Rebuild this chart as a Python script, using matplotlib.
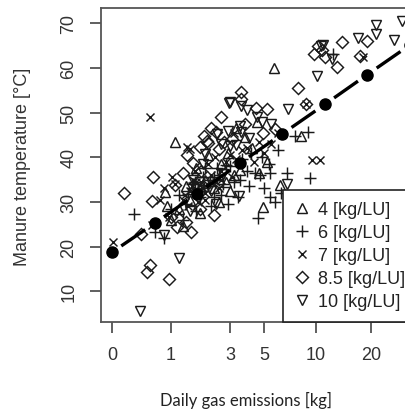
import numpy as np
import matplotlib
matplotlib.use('Agg')
import matplotlib.pyplot as plt

plt.rcParams['font.family'] = ['Liberation Sans', 'DejaVu Sans']

# daily gas emissions [kg] and manure temperature [C] per loading rate
tri_up_x = [1.10, 5.71, 8.2, 4.9, 6.2, 3.5, 4.5, 1.2, 1.5, 1.8, 2.0, 2.3, 2.6, 2.9, 3.2,
            3.8, 4.2, 1.4, 0.9, 1.7, 2.5, 3.0, 5.2, 4.6, 1.0, 2.1, 3.3, 0.86, 1.3, 2.8]
tri_up_y = [43.3, 59.9, 44.7, 28.8, 33.7, 37.2, 47.8, 28.5, 30.5, 27.5, 35.0, 33.0, 38.5, 41.0, 36.0,
            44.5, 42.0, 33.5, 29.0, 37.5, 30.0, 32.5, 39.0, 36.5, 26.0, 40.5, 46.5, 32.1, 24.5, 34.5]

plus_x = [7.6, 9.0, 9.25, 6.8, 3.5, 5.4, 4.56, 2.3, 4.7, 5.4, 4.4, 0.295, 0.657, 0.85, 1.0,
          1.2, 1.4, 1.6, 1.8, 1.9, 2.1, 2.2, 2.5, 2.7, 3.0, 3.2, 3.6, 3.9, 4.1, 4.8,
          5.0, 5.8, 6.3, 6.0, 1.3, 1.7, 2.0, 2.6, 2.9, 3.4, 4.0, 5.3, 12.5, 1.55, 1.95,
          2.15, 1.75, 1.65, 1.85, 2.3, 2.45, 2.8, 1.45]
plus_y = [44.7, 45.6, 35.3, 36.5, 35.0, 31.0, 26.3, 31.0, 36.0, 36.5, 36.5, 27.2, 23.2, 22.0, 28.5,
          31.5, 29.5, 33.0, 31.0, 35.5, 33.5, 29.0, 36.0, 34.0, 38.0, 34.5, 39.5, 37.0, 41.0, 40.0,
          33.0, 30.0, 32.0, 41.5, 26.0, 28.0, 37.5, 31.5, 29.5, 31.0, 33.5, 38.5, 63.0, 34.0, 33.0,
          35.0, 32.5, 34.5, 32.5, 35.5, 37.5, 38.2, 31.8]

cross_x = [0.563, 9.5, 10.5, 0.012, 8.77, 18.0, 3.2, 1.02, 0.85, 1.1, 1.3, 1.5, 1.7, 1.9, 2.0,
           2.2, 2.4, 2.6, 2.8, 3.0, 3.3, 3.6, 3.9, 4.3, 4.6, 5.0, 5.5, 1.2, 1.45, 1.65,
           2.1, 2.5, 0.75, 0.6, 0.95, 1.75, 2.35, 3.1, 6.0, 1.41, 1.5, 1.85, 1.6, 2.05,
           1.55, 1.7, 1.8, 2.0, 2.25, 2.6, 1.35]
cross_y = [48.9, 39.3, 39.3, 21.0, 52.0, 62.5, 45.5, 35.5, 33.0, 34.0, 30.5, 32.5, 34.5, 33.0, 30.5,
           36.0, 34.5, 37.0, 39.0, 40.5, 39.5, 41.5, 42.0, 39.0, 43.5, 41.0, 43.0, 27.5, 29.0, 36.8,
           38.5, 33.0, 30.5, 24.8, 26.5, 30.0, 40.0, 35.5, 45.5, 42.2, 41.8, 34.5, 35.0, 34.0,
           33.5, 32.8, 33.8, 32.0, 34.2, 35.0, 31.5]

diam_x = [0.151, 0.619, 0.6, 0.406, 0.563, 0.509, 0.954, 1.53, 1.0, 1.146, 13.9, 10.8, 10.3, 17.4, 13.07,
          7.9, 8.77, 3.55, 3.55, 4.43, 5.18, 5.79, 19.0, 9.8, 11.2, 2.4, 2.05, 1.81, 1.41, 2.1,
          1.85, 1.95, 2.2, 2.75, 3.1, 4.9, 1.3, 1.6, 2.5, 1.1, 3.8, 2.6, 1.4, 1.8, 2.3]
diam_y = [31.9, 35.5, 30.1, 22.8, 15.8, 14.2, 12.7, 23.2, 26.6, 24.3, 65.7, 63.9, 64.8, 62.6, 60.1,
          55.4, 51.8, 54.5, 53.0, 50.9, 50.7, 46.2, 65.9, 63.0, 62.5, 45.6, 43.6, 42.2, 40.6, 43.1,
          37.0, 44.8, 46.5, 43.5, 44.0, 45.5, 36.5, 38.8, 41.8, 33.8, 47.5, 49.0, 25.5, 28.5, 27.0]

tri_dn_x = [0.39, 1.2, 21.2, 29.2, 21.2, 26.5, 17.0, 10.66, 12.27, 10.12, 6.91, 2.95, 3.55, 3.5, 2.91,
            4.5, 4.83, 2.43, 3.45, 6.8, 11.0, 2.0, 2.6, 3.0, 1.9, 1.6, 2.2, 2.7, 3.3, 4.0,
            0.85, 1.5, 2.4, 5.5, 3.9, 3.0, 3.55]
tri_dn_y = [5.5, 17.4, 69.7, 70.4, 67.5, 66.2, 66.6, 64.8, 61.9, 58.1, 50.7, 52.1, 51.4, 46.9, 45.8,
            48.9, 47.8, 45.3, 31.3, 33.9, 65.2, 40.8, 43.0, 42.5, 38.5, 35.0, 32.5, 36.2, 42.8, 44.2,
            22.5, 28.0, 29.5, 47.5, 50.5, 52.3, 45.6]

# fitted line (dots)
fit_x = [0, 0.65, 1.72, 3.48, 6.39, 11.18, 19.09, 32.1]
fit_y = [18.7, 25.2, 31.8, 38.6, 45.2, 51.8, 58.5, 65.1]

legend_labels = ['4 [kg/LU]', '6 [kg/LU]', '7 [kg/LU]', '8.5 [kg/LU]', '10 [kg/LU]']
xticks = [0, 1, 3, 5, 10, 20]
yticks = [10, 20, 30, 40, 50, 60, 70]

W, H = 406, 414
fig = plt.figure(figsize=(W / 100, H / 100), dpi=100)
ax = fig.add_axes([101 / W, 1 - 323 / H, (420 - 101) / W, (323 - 9) / H])
ax.set_xscale('function', functions=(np.log1p, np.expm1))
ax.set_xlim(-0.12, 36.3)
ax.set_ylim(3.1, 73.4)

mc = '#1a1a1a'
style = dict(ls='none', mfc='none', mec=mc, mew=1.05)
h1, = ax.plot(tri_up_x, tri_up_y, marker='^', ms=7, **style)
h2, = ax.plot(plus_x, plus_y, marker='+', ms=8, **style)
h3, = ax.plot(cross_x, cross_y, marker='x', ms=6, **style)
h4, = ax.plot(diam_x, diam_y, marker='D', ms=6.3, **style)
h5, = ax.plot(tri_dn_x, tri_dn_y, marker='v', ms=7, **style)

# long dashes between the fitted dots
lx = np.log1p(fit_x)
for i in range(len(fit_x) - 1):
    a, b = lx[i], lx[i + 1]
    ya, yb = fit_y[i], fit_y[i + 1]
    seg = np.array([0.22, 0.78])
    ax.plot(np.expm1(a + seg * (b - a)), ya + seg * (yb - ya), color='black', lw=2.4,
            solid_capstyle='butt')
ax.plot(fit_x, fit_y, 'o', color='black', ms=8)

ax.set_xticks(xticks)
ax.set_xticklabels([str(t) for t in xticks])
ax.set_yticks(yticks)
ax.tick_params(axis='both', length=8, width=1.2, color='#444', labelsize=13,
               labelcolor='#333')
ax.tick_params(axis='x', pad=9)
ax.tick_params(axis='y', pad=9)
for lab in ax.get_yticklabels():
    lab.set_rotation(90)
    lab.set_va('center')
for sp in ax.spines.values():
    sp.set_color('#555')
    sp.set_linewidth(1.3)

leg = ax.legend([h1, h2, h3, h4, h5], legend_labels, loc='lower left',
                bbox_to_anchor=(283 / W, 1 - 323 / H), bbox_transform=fig.transFigure,
                fontsize=13, fancybox=False, framealpha=1, edgecolor='#222',
                borderaxespad=0, borderpad=0.65, handlelength=0.8, handletextpad=0.5,
                labelspacing=0.33)
leg.get_frame().set_linewidth(1.2)
for t in leg.get_texts():
    t.set_color('#222')

fig.text(23 / W, 1 - 167 / H, 'Manure temperature [°C]', rotation=90,
         ha='center', va='center', fontsize=13, color='#333')
fig.text(246 / W, 1 - 400 / H, 'Daily gas emissions [kg]', ha='center', va='center',
         fontsize=12, color='#222', family=['Lato', 'DejaVu Sans'])

fig.savefig('out.png', dpi=100)
